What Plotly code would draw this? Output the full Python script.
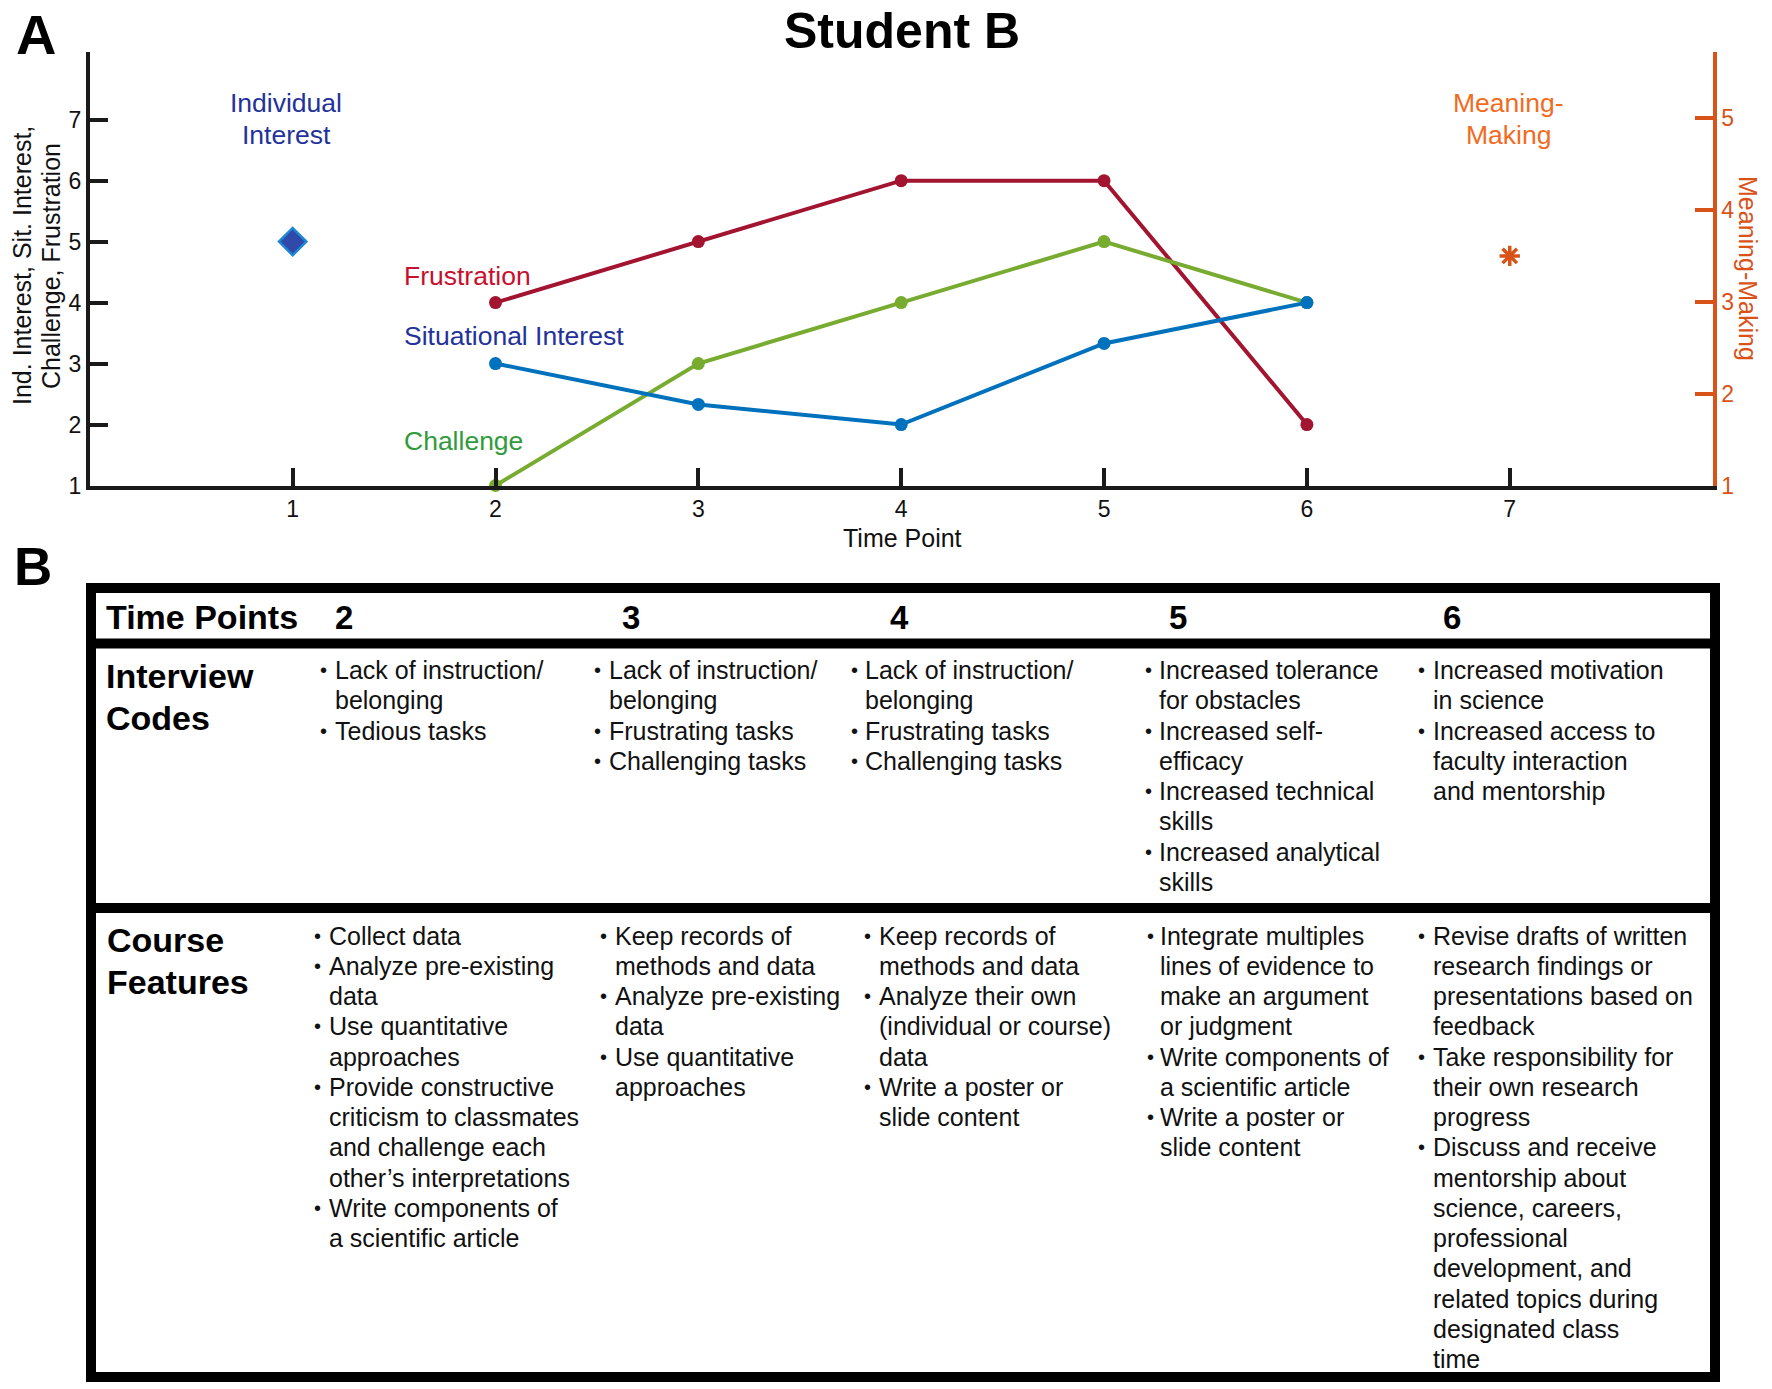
import plotly.graph_objects as go

# ---------------- data ----------------
time_points = [1, 2, 3, 4, 5, 6, 7]
ind_interest_t = [1]
ind_interest = [5]
sit_t = [2, 3, 4, 5, 6]
situational_interest = [3, 2.33, 2, 3.33, 4]
challenge = [1, 3, 4, 5, 4]
frustration = [4, 5, 6, 6, 2]
meaning_t = [7]
meaning_making = [3.5]
left_ticks = [1, 2, 3, 4, 5, 6, 7]
right_ticks = [1, 2, 3, 4, 5]

table_columns = ["2", "3", "4", "5", "6"]
interview_codes = [
    [["Lack of instruction/", "belonging"], ["Tedious tasks"]],
    [["Lack of instruction/", "belonging"], ["Frustrating tasks"], ["Challenging tasks"]],
    [["Lack of instruction/", "belonging"], ["Frustrating tasks"], ["Challenging tasks"]],
    [["Increased tolerance", "for obstacles"], ["Increased self-", "efficacy"],
     ["Increased technical", "skills"], ["Increased analytical", "skills"]],
    [["Increased motivation", "in science"],
     ["Increased access to", "faculty interaction", "and mentorship"]],
]
course_features = [
    [["Collect data"], ["Analyze pre-existing", "data"], ["Use quantitative", "approaches"],
     ["Provide constructive", "criticism to classmates", "and challenge each",
      "other\u2019s interpretations"],
     ["Write components of", "a scientific article"]],
    [["Keep records of", "methods and data"], ["Analyze pre-existing", "data"],
     ["Use quantitative", "approaches"]],
    [["Keep records of", "methods and data"],
     ["Analyze their own", "(individual or course)", "data"],
     ["Write a poster or", "slide content"]],
    [["Integrate multiples", "lines of evidence to", "make an argument", "or judgment"],
     ["Write components of", "a scientific article"],
     ["Write a poster or", "slide content"]],
    [["Revise drafts of written", "research findings or", "presentations based on", "feedback"],
     ["Take responsibility for", "their own research", "progress"],
     ["Discuss and receive", "mentorship about", "science, careers,", "professional",
      "development, and", "related topics during", "designated class", "time"]],
]

# ---------------- layout helpers ----------------
W, H = 1772, 1389
FONT = "Liberation Sans, Arial, sans-serif"
BLUE = "#0072BD"
GREEN = "#77AC30"
RED = "#A2142F"
ORANGE = "#D95319"
AX = "#1a1a1a"


def px(x):
    return x / W


def py(y):
    return 1 - y / H


annotations = []


def text(x, y, s, size, color="#111", bold=False, xanchor="left", angle=0, yanchor="middle"):
    if bold:
        s = "<b>" + s + "</b>"
    annotations.append(dict(
        x=px(x), y=py(y), xref="paper", yref="paper", text=s, showarrow=False,
        xanchor=xanchor, yanchor=yanchor, textangle=angle,
        font=dict(family=FONT, size=size, color=color)))


fig = go.Figure()

fig.add_trace(go.Scatter(
    x=sit_t, y=frustration, mode="lines+markers", cliponaxis=False,
    line=dict(color=RED, width=4), marker=dict(color=RED, size=13), showlegend=False))
fig.add_trace(go.Scatter(
    x=sit_t, y=challenge, mode="lines+markers", cliponaxis=False,
    line=dict(color=GREEN, width=4), marker=dict(color=GREEN, size=13), showlegend=False))
fig.add_trace(go.Scatter(
    x=sit_t, y=situational_interest, mode="lines+markers", cliponaxis=False,
    line=dict(color=BLUE, width=4), marker=dict(color=BLUE, size=13), showlegend=False))
fig.add_trace(go.Scatter(
    x=ind_interest_t, y=ind_interest, mode="markers", cliponaxis=False,
    marker=dict(symbol="diamond", size=21, color="#2F4AA8",
                line=dict(color="#1E86D6", width=2.5)), showlegend=False))
fig.add_trace(go.Scatter(
    x=meaning_t, y=meaning_making, mode="markers", yaxis="y2", cliponaxis=False,
    marker=dict(symbol="asterisk-open", size=17, color=ORANGE,
                line=dict(color=ORANGE, width=3.5)), showlegend=False))

x0, x1 = 89.8, 1712.6
ytop, ybot = 52, 485.5

fig.update_layout(
    width=W, height=H, template="none",
    margin=dict(l=0, r=0, t=0, b=0),
    paper_bgcolor="white", plot_bgcolor="rgba(0,0,0,0)",
    xaxis=dict(domain=[px(x0), px(x1)], range=[0, 8], tickvals=time_points,
               ticks="inside", ticklen=18, tickwidth=4, tickcolor=AX,
               showline=True, linewidth=4, linecolor=AX, showgrid=False, zeroline=False,
               tickfont=dict(family=FONT, size=23, color="#111"), anchor="y"),
    yaxis=dict(domain=[py(ybot), py(ytop)], range=[1, 8.11], tickvals=left_ticks,
               ticks="inside", ticklen=18, tickwidth=4, tickcolor=AX,
               showline=True, linewidth=4, linecolor=AX, showgrid=False, zeroline=False,
               tickfont=dict(family=FONT, size=23, color="#111"), anchor="x"),
    yaxis2=dict(overlaying="y", side="right", range=[1, 5.72], tickvals=right_ticks,
                ticks="inside", ticklen=18, tickwidth=4, tickcolor=ORANGE,
                showline=True, linewidth=4, linecolor=ORANGE, showgrid=False, zeroline=False,
                tickfont=dict(family=FONT, size=23, color=ORANGE), anchor="x"),
)

# ---- chart texts ----
text(902, 1, "Student B", 50, "#000", bold=True, xanchor="center", yanchor="top")
text(14, 1, "A", 56, "#000", bold=True, yanchor="top")
text(12, 566, "B", 53, "#000", bold=True)
text(902, 538, "Time Point", 25, "#111", xanchor="center")
text(22, 266, "Ind. Interest, Sit. Interest,", 25, "#111", xanchor="center", angle=-90)
text(51, 266, "Challenge, Frustration", 25, "#111", xanchor="center", angle=-90)
text(1748, 268, "Meaning-Making", 25, ORANGE, xanchor="center", angle=90)

text(286, 103, "Individual", 26.5, "#23329B", xanchor="center")
text(286, 134.5, "Interest", 26.5, "#23329B", xanchor="center")
text(1508, 103, "Meaning-", 26.5, "#F26B21", xanchor="center")
text(1508, 134.5, "Making", 26.5, "#F26B21", xanchor="center")
text(402, 276, "Frustration", 26.5, "#C8102E")
text(402, 335.6, "Situational Interest", 26.5, "#23329B")
text(402, 441, "Challenge", 26.5, "#2F9B3A")

# ---- table frame ----
shapes = []
LW = 10
shapes.append(dict(type="rect", xref="paper", yref="paper",
                   x0=px(91), x1=px(1715), y0=py(588), y1=py(1377),
                   line=dict(color="#000", width=LW), fillcolor="rgba(0,0,0,0)"))
for yy in (643.5, 908):
    shapes.append(dict(type="line", xref="paper", yref="paper",
                       x0=px(86), x1=px(1720), y0=py(yy), y1=py(yy),
                       line=dict(color="#000", width=LW)))
fig.update_layout(shapes=shapes)

# header row
text(104, 617, "Time Points", 34, "#000", bold=True)
header_x = [333, 620, 888, 1167, 1441]
for hx, lab in zip(header_x, table_columns):
    text(hx, 617, lab, 33, "#000", bold=True)

text(104, 676, "Interview", 34, "#000", bold=True)
text(104, 717.6, "Codes", 34, "#000", bold=True)
text(105, 940, "Course", 34, "#000", bold=True)
text(105, 982, "Features", 34, "#000", bold=True)

LINE = 30.25
BODY = 25


def cell(items, bx, tx, y_first):
    i = 0
    for item in items:
        text(bx, y_first + i * LINE, "\u2022", 20, "#111")
        for ln in item:
            text(tx, y_first + i * LINE, ln, BODY, "#111")
            i += 1


ic_bx = [317.5, 592, 849, 1142.5, 1416]
ic_tx = [333, 607, 863, 1157, 1431]
cf_bx = [312, 598, 862, 1145, 1416]
cf_tx = [326.6, 612.5, 877, 1158, 1431]
for k in range(5):
    cell(interview_codes[k], ic_bx[k], ic_tx[k], 670)
    cell(course_features[k], cf_bx[k], cf_tx[k], 935.7)

fig.update_layout(annotations=annotations)
fig.write_html("out.html", config={"displayModeBar": False},
               post_script="document.body.style.margin='0';document.body.style.overflow='hidden';")
